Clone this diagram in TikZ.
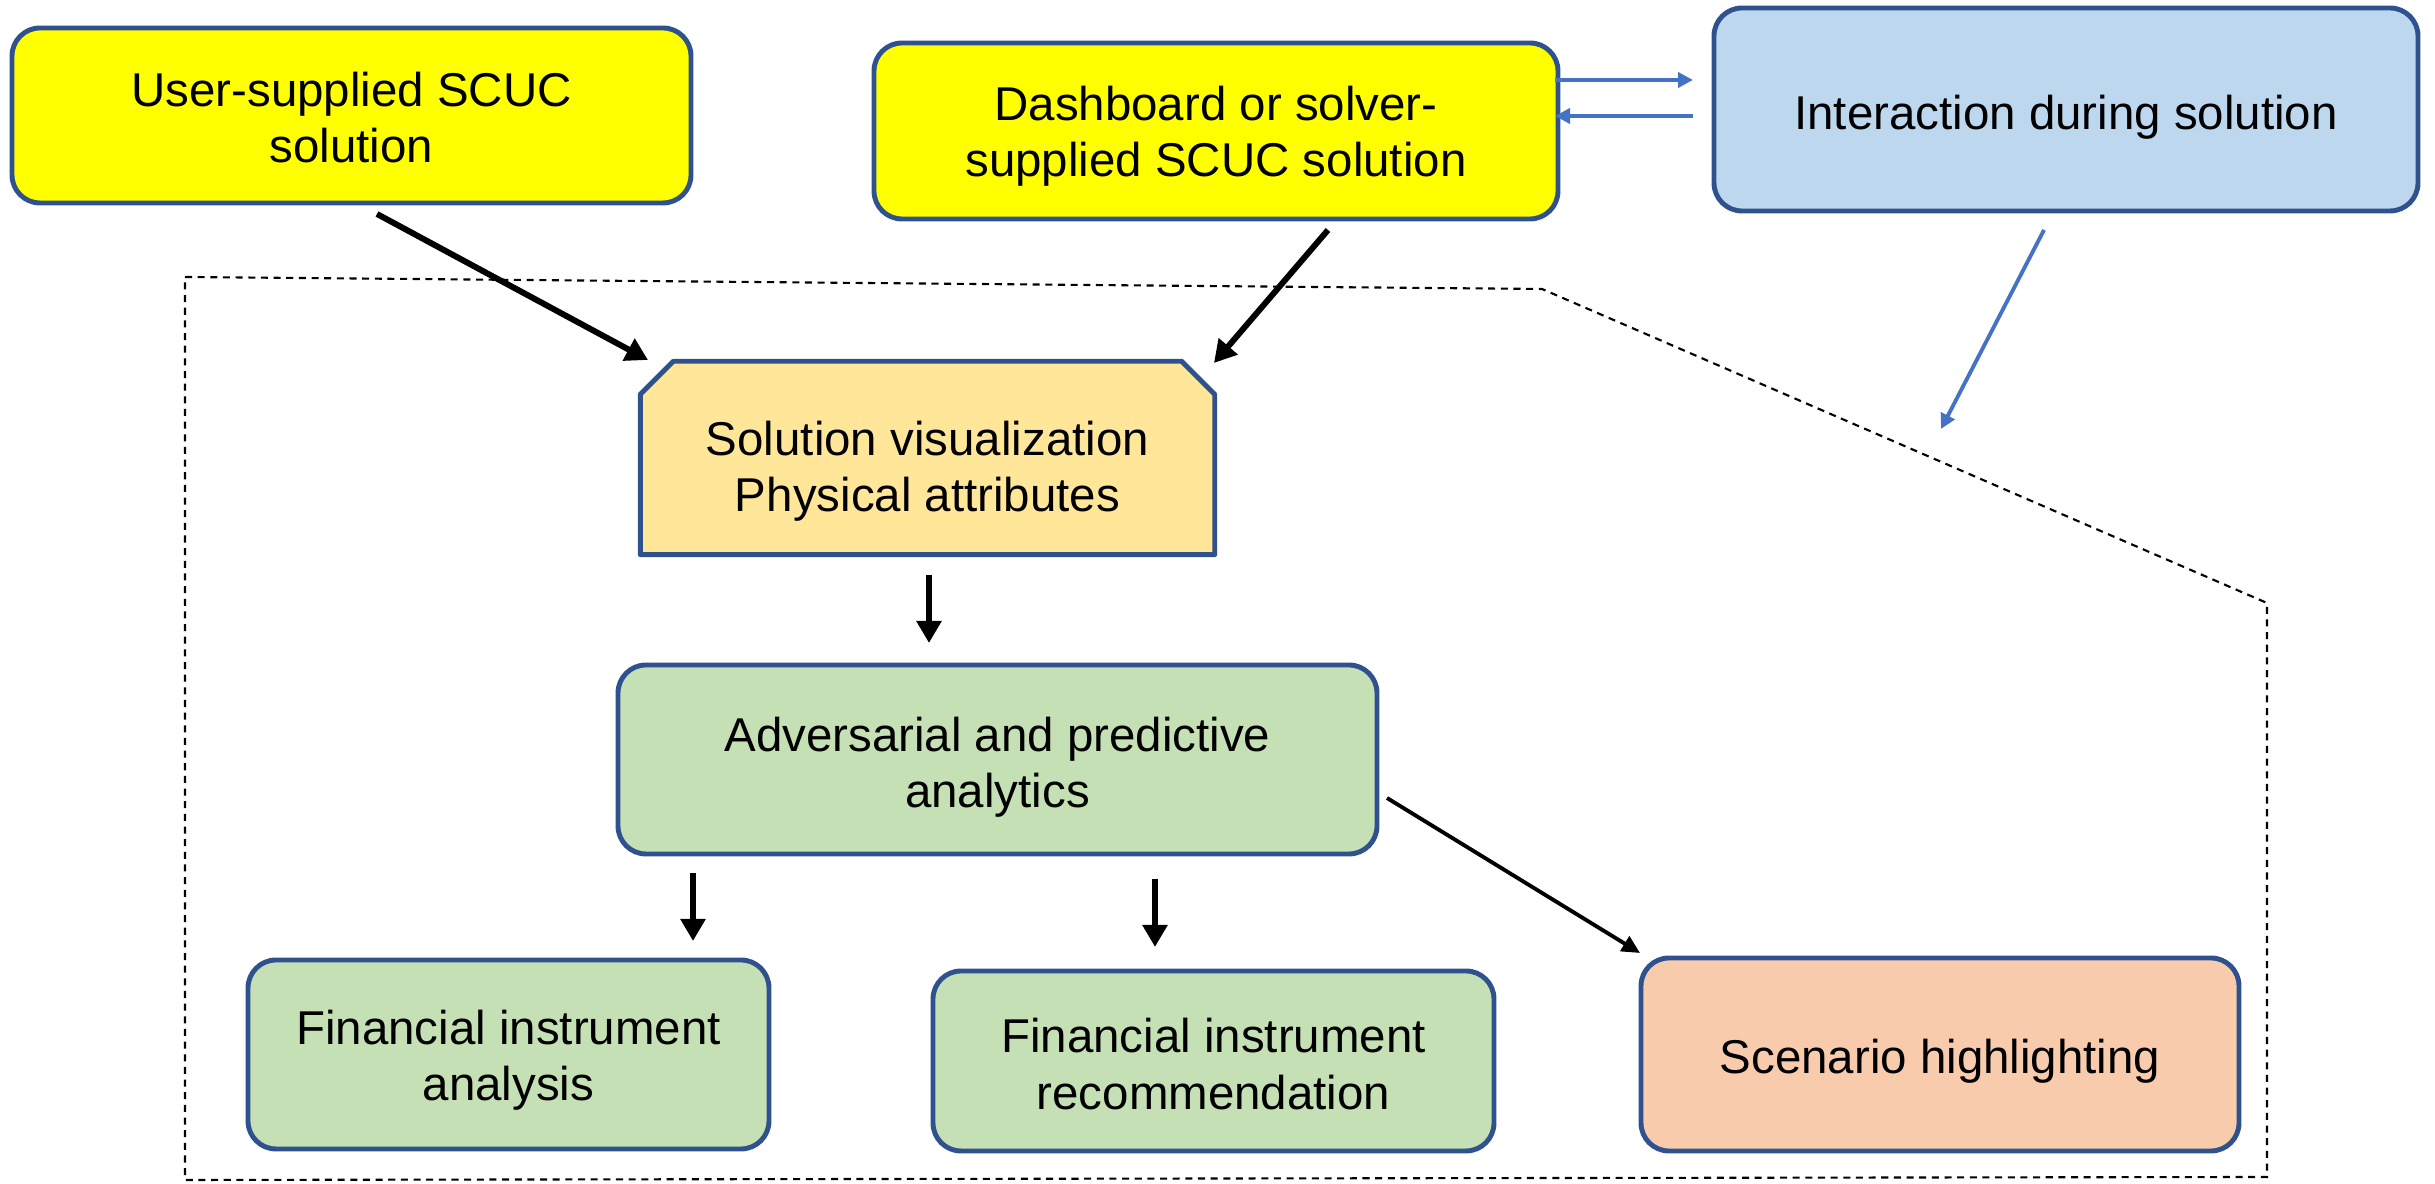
\documentclass[tikz,border=0pt]{standalone}
\usepackage{fontspec}
\setmainfont{Liberation Sans}
\usetikzlibrary{arrows.meta,calc,backgrounds}
\definecolor{edgeblue}{HTML}{2F528F}
\definecolor{arrowblue}{HTML}{4472C4}
\definecolor{yfill}{HTML}{FFFF00}
\definecolor{bfill}{HTML}{BDD7EE}
\definecolor{vfill}{HTML}{FFE699}
\definecolor{gfill}{HTML}{C5E0B4}
\definecolor{ofill}{HTML}{F8CBAD}
\begin{document}
\begin{tikzpicture}[x=1cm,y=1cm,font=\fontsize{13.5}{16}\selectfont,
  box/.style={draw=edgeblue,line width=1.4pt,rounded corners=0.28cm,inner sep=0pt},
  txt/.style={align=center,inner sep=0pt},
  bigarrow/.style={-{Triangle[length=0.22cm,width=0.24cm]},line width=1.7pt,black},
  midarrow/.style={-{Triangle[length=0.18cm,width=0.17cm]},line width=1.1pt,black},
  bluearrow/.style={-{Triangle[length=0.15cm,width=0.15cm]},line width=1.1pt,arrowblue},
  boundary/.style={dash pattern=on 2pt off 1.6pt,line width=0.6pt,black}]
\useasboundingbox (0,0) rectangle (24.35,11.84);

% dashed boundary
\draw[boundary] (1.85,9.07) -- (15.42,8.95) -- (22.67,5.81) -- (22.67,0.07) -- (1.85,0.04) -- cycle;

% boxes
\node[box,fill=yfill,minimum width=6.79cm,minimum height=1.75cm] (user) at (3.515,10.685) {};
\node[box,fill=yfill,minimum width=6.84cm,minimum height=1.76cm] (dash) at (12.16,10.53) {};
\node[box,fill=bfill,minimum width=7.04cm,minimum height=2.03cm] (inter) at (20.66,10.745) {};
\node[inner sep=0pt,minimum width=5.73cm,minimum height=1.92cm] (viz) at (9.275,7.26) {};
\filldraw[draw=edgeblue,fill=vfill,line width=1.4pt,line join=round]
  (viz.south west) -- ($(viz.north west)+(0,-0.33)$) -- ($(viz.north west)+(0.33,0)$)
  -- ($(viz.north east)+(-0.33,0)$) -- ($(viz.north east)+(0,-0.33)$) -- (viz.south east) -- cycle;
\node[box,fill=gfill,minimum width=7.59cm,minimum height=1.89cm] (adv) at (9.975,4.245) {};
\node[box,fill=gfill,minimum width=5.21cm,minimum height=1.89cm] (fia) at (5.085,1.295) {};
\node[box,fill=gfill,minimum width=5.61cm,minimum height=1.80cm] (fir) at (12.135,1.23) {};
\node[box,fill=ofill,minimum width=5.98cm,minimum height=1.93cm] (scen) at (19.4,1.295) {};

% texts
\node[txt] (userT)  at ($(user.center)+(0,-0.02)$)  {User-supplied SCUC\\solution};
\node[txt] (dashT)  at ($(dash.center)+(0,-0.055)$) {Dashboard or solver-\\supplied SCUC solution};
\node[txt] (interT) at ($(inter.center)+(0,-0.08)$) {Interaction during solution};
\node[txt] (vizT)   at ($(viz.center)+(0,-0.13)$)   {Solution visualization\\Physical attributes};
\node[txt] (advT)   at ($(adv.center)+(0,-0.075)$)  {Adversarial and predictive\\analytics};
\node[txt] (fiaT)   at ($(fia.center)+(0,-0.06)$)   {Financial instrument\\analysis};
\node[txt] (firT)   at ($(fir.center)+(0,-0.03)$)   {Financial instrument\\recommendation};
\node[txt] (scenT)  at ($(scen.center)+(0,-0.07)$)  {Scenario highlighting};

% connector end points
\coordinate (u1) at (3.77,9.70);   \coordinate (u2) at (6.48,8.24);
\coordinate (d1) at (13.28,9.54);  \coordinate (d2) at (12.14,8.21);
\coordinate (v1) at (9.29,6.09);   \coordinate (v2) at (9.29,5.41);
\coordinate (a1) at (6.93,3.11);   \coordinate (a2) at (6.93,2.43);
\coordinate (b1) at (11.55,3.05);  \coordinate (b2) at (11.55,2.37);
\coordinate (c1) at (13.87,3.86);  \coordinate (c2) at (16.40,2.31);
\coordinate (t1) at (15.55,11.04); \coordinate (t2) at (16.93,11.04);
\coordinate (s1) at (16.93,10.68); \coordinate (s2) at (15.55,10.68);
\coordinate (i1) at (20.44,9.54);  \coordinate (i2) at (19.41,7.55);

\draw[bigarrow] (u1) -- (u2);
\draw[bigarrow] (d1) -- (d2);
\draw[bigarrow] (v1) -- (v2);
\draw[bigarrow] (a1) -- (a2);
\draw[bigarrow] (b1) -- (b2);
\draw[midarrow] (c1) -- (c2);
\draw[bluearrow] (t1) -- (t2);
\draw[bluearrow] (s1) -- (s2);
\draw[bluearrow] (i1) -- (i2);
\end{tikzpicture}
\end{document}
